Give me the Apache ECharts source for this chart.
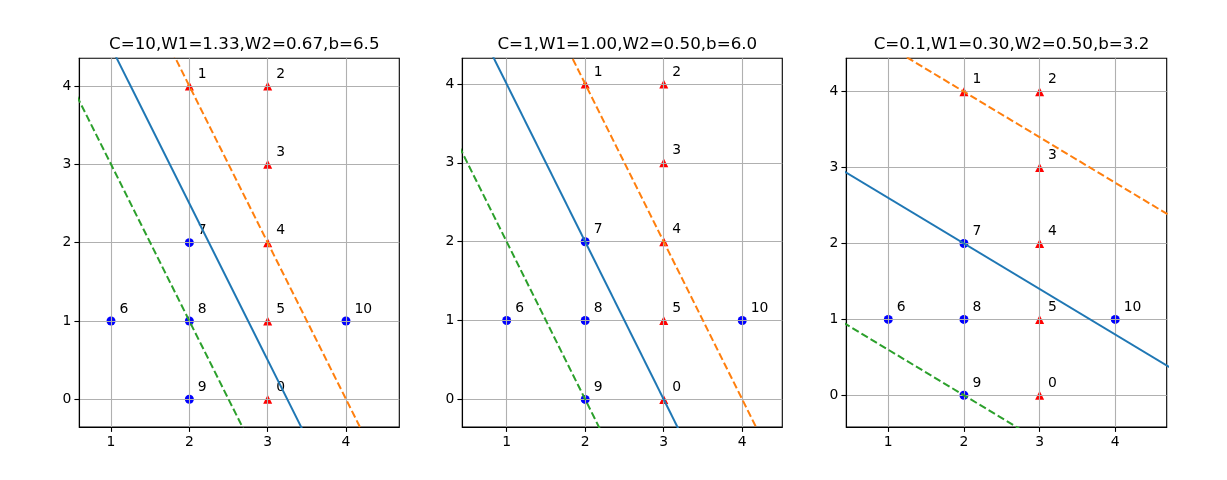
<!DOCTYPE html>
<html>
<head>
<meta charset="utf-8">
<script src="https://cdn.jsdelivr.net/npm/echarts@6/dist/echarts.min.js"></script>
<style>
html,body{margin:0;padding:0;background:#fff;}
#chart{width:1227px;height:480px;}
</style>
</head>
<body>
<div id="chart"></div>
<script>
// Model parameters per panel
const C = ['10', '1', '0.1'];
const W1 = [1.3333, 1.0, 0.3];
const W2 = [0.6667, 0.5, 0.5];
const B = [6.5, 6.0, 3.2];

// Positive class (red triangles) points and their labels
const posX = [3, 2, 3, 3, 3, 3];
const posY = [0, 4, 4, 3, 2, 1];
const posLabels = ['0', '1', '2', '3', '4', '5'];
// Negative class (blue circles)
const negX = [1, 2, 2, 2, 4];
const negY = [1, 2, 1, 0, 1];
const negLabels = ['6', '7', '8', '9', '10'];

// Axis ranges per panel and tick labels
const xMin = [0.595, 0.435, 0.445];
const xMax = [4.68, 4.51, 4.68];
const yMin = [-0.354, -0.35, -0.418];
const yMax = [4.354, 4.326, 4.44];
const xTicks = [1, 2, 3, 4];
const yTicks = [0, 1, 2, 3, 4];

const gridLeft = [79.3, 462.3, 846.3];
const gridW = [320, 320, 320.4];
const gridTop = 58.3;
const gridH = 368.7;

const FONT = 'DejaVu Sans';

const chart = echarts.init(document.getElementById('chart'), null, {renderer: 'canvas'});

const titles = [], grids = [], xAxes = [], yAxes = [], series = [];

function fmt2(v) { return v.toFixed(2); }

for (let i = 0; i < 3; i++) {
  titles.push({
    text: 'C=' + C[i] + ',W1=' + fmt2(W1[i]) + ',W2=' + fmt2(W2[i]) + ',b=' + B[i].toFixed(1),
    left: gridLeft[i] + gridW[i] / 2,
    top: 31,
    textAlign: 'center',
    textStyle: {fontFamily: FONT, fontSize: 16.7, fontWeight: 'normal', color: '#000'}
  });
  grids.push({
    left: gridLeft[i], top: gridTop, width: gridW[i], height: gridH,
    show: true, borderColor: '#000', borderWidth: 1.1, backgroundColor: 'transparent'
  });
  const axisCommon = {
    gridIndex: i,
    type: 'value',
    z: 1,
    axisLine: {show: true, onZero: false, lineStyle: {color: '#000', width: 1.1}},
    axisTick: {show: true, length: 4.9, lineStyle: {color: '#000', width: 1.1}},
    splitLine: {show: true, lineStyle: {color: '#b0b0b0', width: 1.1}},
    axisLabel: {color: '#000', fontFamily: FONT, fontSize: 13.9, margin: 8}
  };
  xAxes.push(Object.assign({}, axisCommon, {
    min: xMin[i], max: xMax[i],
    axisTick: Object.assign({}, axisCommon.axisTick, {customValues: xTicks}),
    axisLabel: Object.assign({}, axisCommon.axisLabel, {customValues: xTicks}),
  }));
  yAxes.push(Object.assign({}, axisCommon, {
    min: yMin[i], max: yMax[i],
    axisTick: Object.assign({}, axisCommon.axisTick, {customValues: yTicks}),
    axisLabel: Object.assign({}, axisCommon.axisLabel, {customValues: yTicks}),
  }));

  const labelCfg = {
    show: true,
    position: [13, -0.5],
    align: 'left',
    verticalAlign: 'bottom',
    color: '#000',
    opacity: 1,
    fontFamily: FONT,
    fontSize: 13.9
  };
  series.push({
    type: 'scatter', xAxisIndex: i, yAxisIndex: i, z: 0,
    symbol: 'triangle', symbolSize: 9,
    itemStyle: {color: '#ff0000', opacity: 1},
    data: posX.map((x, j) => ({value: [x, posY[j]], name: posLabels[j]})),
    label: Object.assign({}, labelCfg, {formatter: p => p.name}),
    emphasis: {disabled: true}, silent: true
  });
  series.push({
    type: 'scatter', xAxisIndex: i, yAxisIndex: i, z: 0,
    symbol: 'circle', symbolSize: 9,
    itemStyle: {color: '#0000ff', opacity: 1},
    data: negX.map((x, j) => ({value: [x, negY[j]], name: negLabels[j]})),
    label: Object.assign({}, labelCfg, {formatter: p => p.name}),
    emphasis: {disabled: true}, silent: true
  });

  const slope = -W1[i] / W2[i];
  const margin = 1 / W2[i];
  const lines = [
    {k: 0, color: '#1f77b4', type: 'solid'},
    {k: 1, color: '#ff7f0e', type: [7.4, 3.2]},
    {k: -1, color: '#2ca02c', type: [7.4, 3.2]}
  ];
  const xs = [xMin[i] - 1, xMax[i] + 1];
  lines.forEach(l => {
    series.push({
      type: 'line', xAxisIndex: i, yAxisIndex: i, z: 3,
      showSymbol: false, symbol: 'none', clip: true, silent: true,
      lineStyle: {color: l.color, width: 2, type: l.type},
      data: xs.map(x => [x, B[i] + slope * x + l.k * margin])
    });
  });
}

chart.setOption({
  animation: false,
  backgroundColor: '#fff',
  title: titles,
  grid: grids,
  xAxis: xAxes,
  yAxis: yAxes,
  series: series
});
</script>
</body>
</html>
